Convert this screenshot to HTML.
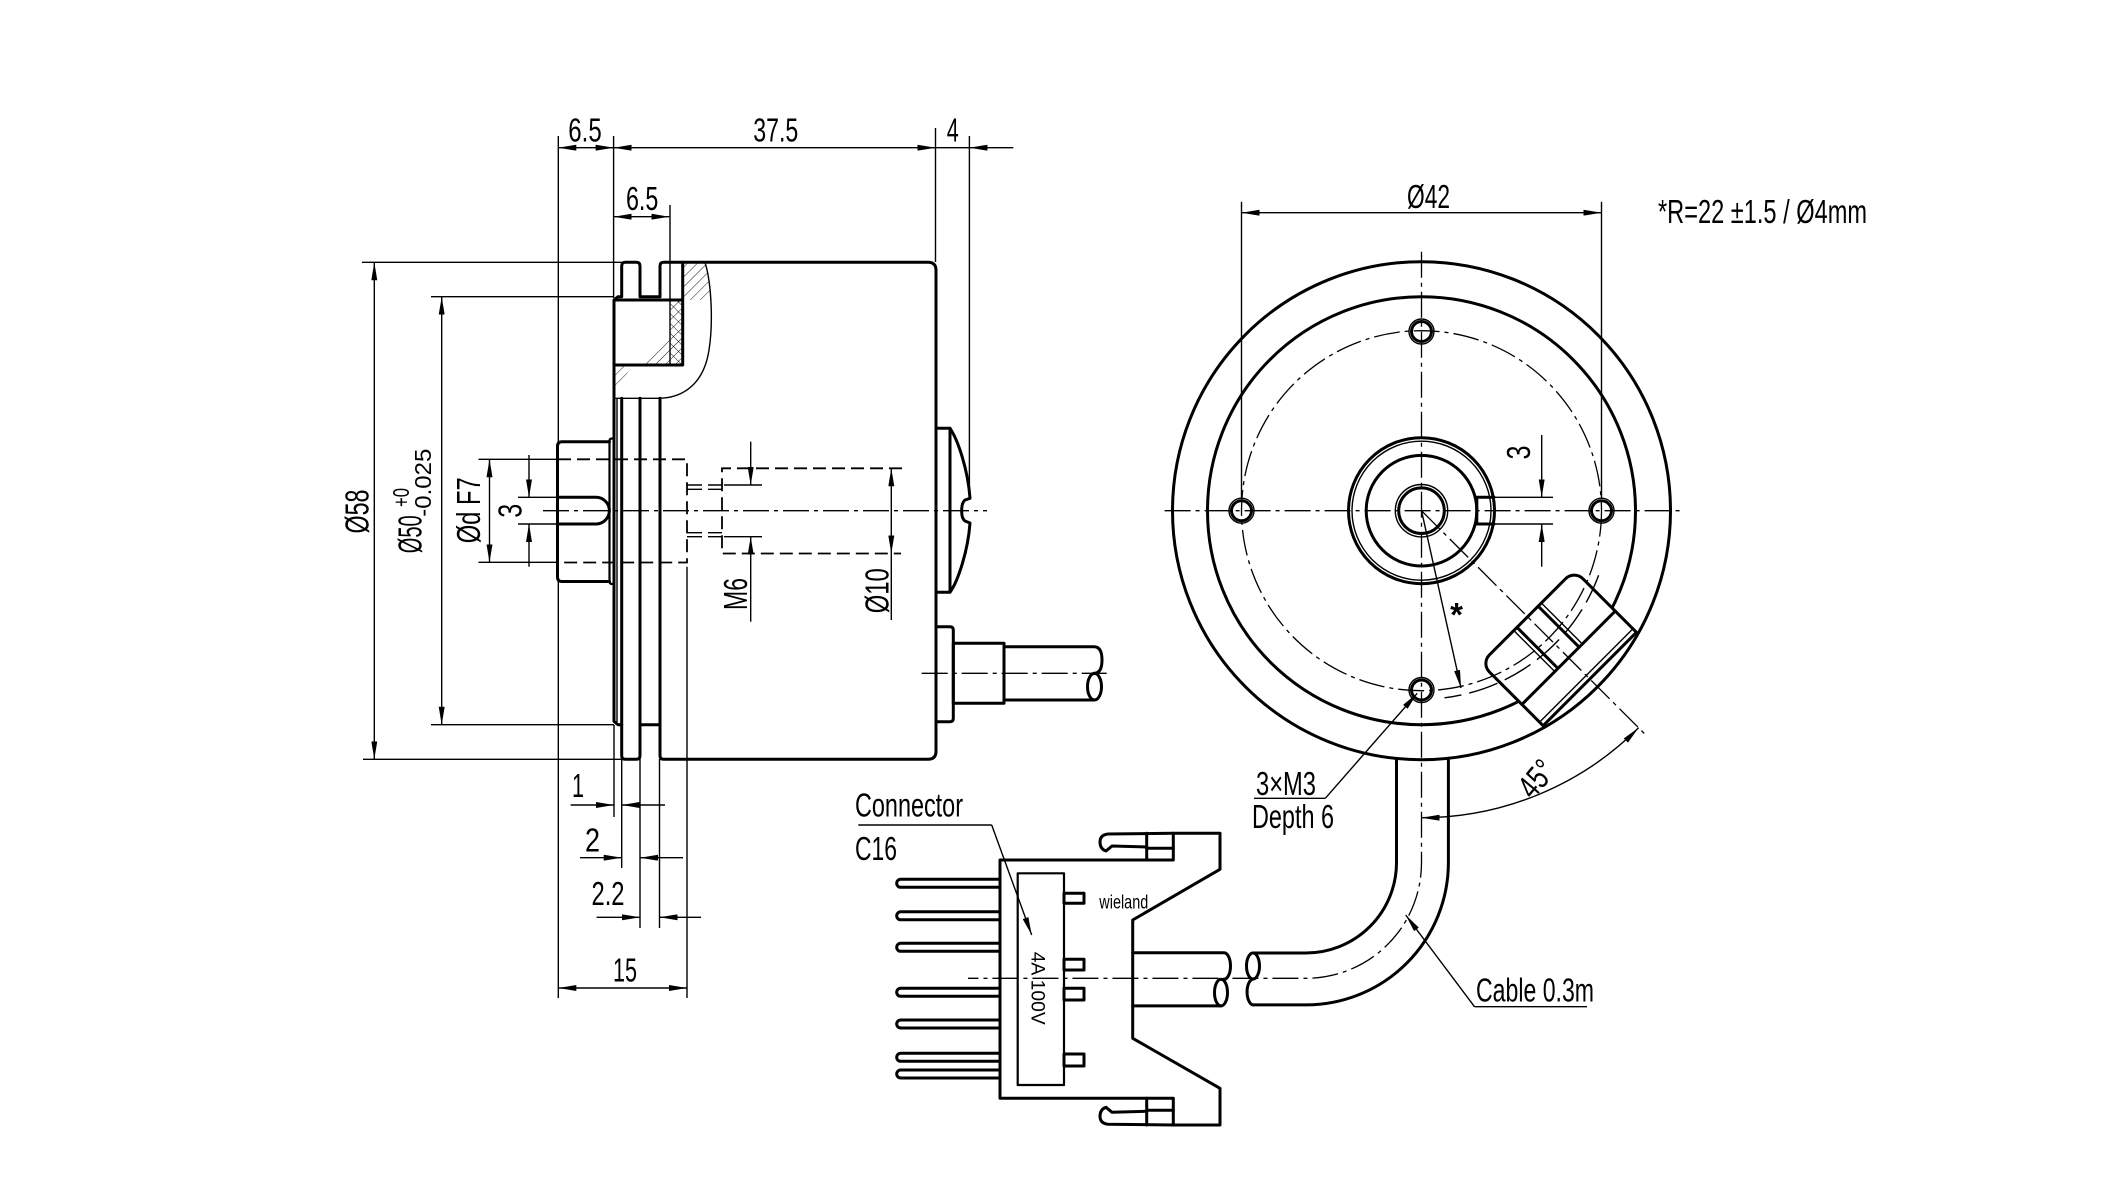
<!DOCTYPE html>
<html><head><meta charset="utf-8"><style>
html,body{margin:0;padding:0;background:#fff;}
svg{display:block;}
.k{stroke:#000;fill:none;stroke-width:3;stroke-linejoin:round;stroke-linecap:round}
.m{stroke:#000;fill:none;stroke-width:2.2;stroke-linejoin:round}
.t{stroke:#000;fill:none;stroke-width:1.4}
.c{stroke:#000;fill:none;stroke-width:1.3;stroke-dasharray:26 5 4 5}
.d{stroke:#000;fill:none;stroke-width:1.8;stroke-dasharray:13 6}
.ar{marker-start:url(#a);marker-end:url(#a)}
.ae{marker-end:url(#a)}
text{font-family:"Liberation Sans",Arial,sans-serif;font-size:33px;fill:#000}
</style></head><body>
<svg xmlns="http://www.w3.org/2000/svg" width="2127" height="1182" viewBox="0 0 2127 1182">
<defs>
<marker id="a" viewBox="0 0 18 6" refX="18" refY="3" markerWidth="18" markerHeight="6" markerUnits="userSpaceOnUse" orient="auto-start-reverse"><path d="M0,0 L18,3 L0,6z" fill="#000"/></marker>
<pattern id="h1" patternUnits="userSpaceOnUse" width="7" height="7" patternTransform="rotate(45)"><line x1="0" y1="0" x2="0" y2="7" stroke="#000" stroke-width="0.9"/></pattern>
<pattern id="h2" patternUnits="userSpaceOnUse" width="7" height="7" patternTransform="rotate(-45)"><line x1="0" y1="0" x2="0" y2="7" stroke="#000" stroke-width="0.9"/></pattern>
</defs>
<rect width="2127" height="1182" fill="#fff"/>

<!-- ================= LEFT (SIDE) VIEW ================= -->
<path d="M682.7,262.3 L705,262.3 L709,285 L710.5,300 L682.7,300 Z" fill="url(#h1)"/>
<rect x="670" y="300" width="12.7" height="65" fill="url(#h1)"/>
<rect x="670" y="300" width="12.7" height="65" fill="url(#h2)"/>
<path d="M614,365 L633,365 L614,392 Z" fill="url(#h1)"/>
<path d="M643,365 L670,365 L670,333 Z" fill="url(#h1)"/>

<path class="k" d="M614,300 L618,296.7 L621.7,296.7 L621.7,266 Q621.7,262.3 625.4,262.3 L636.3,262.3 Q640,262.3 640,266 L640,296.7 L660,296.7 L660,266 Q660,262.3 663.7,262.3 L928,262.3 Q936,262.3 936,270.3 L936,751.3 Q936,759.3 928,759.3 L663.7,759.3 Q660,759.3 660,755.6 L660,724.7 L640,724.7 L640,755.6 Q640,759.3 636.3,759.3 L625.4,759.3 Q621.7,759.3 621.7,755.6 L621.7,724.7 L618,724.7 L614,721.4 Z"/>
<path class="k" d="M621.7,398.3 L621.7,724.7 M640,398.3 L640,724.7 M660,398.3 L660,724.7"/>
<path class="t" d="M617,398.3 L617,722"/>
<path class="t" d="M705,262.3 C712,285 713,325 709,350 C704,383 684,398.3 658,398.3 L614,398.3"/>
<path class="k" d="M614,300 L682.7,300 L682.7,365 L614,365 M682.7,262.3 L682.7,300"/>
<path class="t" d="M670,205 L670,365"/>

<path class="k" d="M609.5,441.7 L562,441.7 Q557.5,441.7 557.5,446.2 L557.5,577 Q557.5,581.5 562,581.5 L609.5,581.5"/>
<path class="m" d="M609.5,581.5 L609.5,441 Q609.5,438.5 612,438.5 L614,438.5 M609.5,581.5 Q609.5,584 612,584 L614,584"/>
<path class="k" d="M557.5,497.3 L596,497.3 A13.35,13.35 0 0 1 596,524 L557.5,524"/>
<path class="d" d="M558,459.3 L687,459.3 L687,562.5 L558,562.5"/>
<path class="t" d="M687,485 L702,485 M708,485 L722,485 M687,489.3 L702,489.3 M708,489.3 L722,489.3 M687,532.7 L702,532.7 M708,532.7 L722,532.7 M687,536.7 L702,536.7 M708,536.7 L722,536.7"/>
<path class="d" d="M902,468.3 L722,468.3 L722,553.5 L901,553.5"/>
<path class="t" d="M724,485 L762,485 M724,536.7 L762,536.7"/>

<path class="k" d="M936,428.3 L950,428.3 C958,440 968,470 970,498.3 L965,500 Q961.5,503 961.7,510.7 Q961.5,518.5 965,521 L970,523 C968,551 958,581 950,592.3 L936,592.3 M950,428.3 L950,592.3"/>
<path class="k" d="M936,626.7 L950,626.7 Q953.3,626.7 953.3,630 L953.3,718.4 Q953.3,721.7 950,721.7 L936,721.7"/>
<rect class="k" x="953.3" y="643.3" width="50.7" height="60"/>
<path class="k" d="M1004,646.7 L1094,646.7 Q1102,646.7 1102,660 Q1102,673.3 1094,673.3 M1004,700 L1094,700"/>
<ellipse class="k" cx="1094.5" cy="686.7" rx="7" ry="13.3"/>
<path class="c" d="M543,510.7 L987,510.7"/>
<path class="c" d="M921.7,673.3 L1106.7,673.3"/>

<path class="t" d="M362,262.3 L621.7,262.3 M363,759.3 L621.7,759.3"/>
<path class="t ar" d="M374.3,262.3 L374.3,759.3"/>
<path class="t" d="M431,296.7 L614,296.7 M431,724.7 L614,724.7"/>
<path class="t ar" d="M441.7,296.7 L441.7,724.7"/>
<path class="t" d="M478.5,459.3 L558,459.3 M478.5,562.3 L558,562.3"/>
<path class="t ar" d="M489.5,459.3 L489.5,562.3"/>
<path class="t" d="M518,497.3 L557.5,497.3 M518,524 L557.5,524"/>
<path class="t ae" d="M529,455 L529,497.3"/>
<path class="t ae" d="M529,566.7 L529,524"/>

<text transform="translate(368.3,511.5) rotate(-90)" text-anchor="middle" textLength="44" lengthAdjust="spacingAndGlyphs">Ø58</text>
<text transform="translate(421.7,553.3) rotate(-90)" textLength="38" lengthAdjust="spacingAndGlyphs">Ø50</text>
<text transform="translate(409,507) rotate(-90)" style="font-size:23px" textLength="19" lengthAdjust="spacingAndGlyphs">+0</text>
<text transform="translate(431,516.7) rotate(-90)" style="font-size:23px" textLength="68" lengthAdjust="spacingAndGlyphs">-0.025</text>
<text transform="translate(480,543.3) rotate(-90)" textLength="66" lengthAdjust="spacingAndGlyphs">Ød F7</text>
<text transform="translate(521.7,510.7) rotate(-90)" text-anchor="middle" textLength="14" lengthAdjust="spacingAndGlyphs">3</text>

<path class="t ae" d="M750.7,441.7 L750.7,485"/>
<path class="t ae" d="M750.7,621.7 L750.7,536.7"/>
<text transform="translate(747,610) rotate(-90)" textLength="32" lengthAdjust="spacingAndGlyphs">M6</text>
<path class="t ar" d="M891.3,468.3 L891.3,553.5"/>
<path class="t" d="M891.3,553.5 L891.3,620"/>
<text transform="translate(888.5,613.3) rotate(-90)" textLength="45" lengthAdjust="spacingAndGlyphs">Ø10</text>

<path class="t" d="M558.3,136 L558.3,441.7 M558.3,581.5 L558.3,998 M613.6,136 L613.6,298 M935.5,128 L935.5,262 M969.4,136 L969.4,498"/>
<path class="t ar" d="M558.3,147.7 L613.6,147.7"/>
<path class="t ar" d="M613.6,147.7 L935.5,147.7"/>
<path class="t" d="M935.5,147.7 L969.4,147.7"/>
<path class="t ae" d="M1013.3,147.7 L969.4,147.7"/>
<text x="568.3" y="141.7" textLength="33.4" lengthAdjust="spacingAndGlyphs">6.5</text>
<text x="753.3" y="141.7" textLength="45" lengthAdjust="spacingAndGlyphs">37.5</text>
<text x="946.7" y="141.7" textLength="12" lengthAdjust="spacingAndGlyphs">4</text>
<path class="t ar" d="M613.6,216.7 L669.3,216.7"/>
<text x="626" y="210" textLength="32.3" lengthAdjust="spacingAndGlyphs">6.5</text>

<path class="t" d="M614,725 L614,817 M621.7,759 L621.7,868 M640,759 L640,928 M659.5,759 L659.5,928 M687,566.7 L687,998"/>
<path class="t ae" d="M570.6,805 L614,805"/>
<path class="t ae" d="M665,805 L621.7,805"/>
<text x="572" y="797" textLength="12" lengthAdjust="spacingAndGlyphs">1</text>
<path class="t ae" d="M580,857.7 L621.7,857.7"/>
<path class="t ae" d="M683,857.7 L640,857.7"/>
<text x="585" y="851.7" textLength="15" lengthAdjust="spacingAndGlyphs">2</text>
<path class="t ae" d="M596.6,917.3 L640,917.3"/>
<path class="t ae" d="M701,917.3 L659.5,917.3"/>
<text x="591.5" y="905" textLength="33" lengthAdjust="spacingAndGlyphs">2.2</text>
<path class="t ar" d="M558.3,988 L687,988"/>
<text x="613" y="981.7" textLength="24" lengthAdjust="spacingAndGlyphs">15</text>

<!-- ================= RIGHT (REAR) VIEW ================= -->
<circle class="k" cx="1421.5" cy="510.7" r="249"/>
<circle class="k" cx="1421.5" cy="510.7" r="214"/>
<g transform="translate(1421.5,510.7) rotate(45)">
<path class="k" style="fill:#fff" d="M238,-66 L162,-66 A12,12 0 0 0 150,-54 L150,54 A12,12 0 0 0 162,66 L238,66 Z"/>
<path class="k" d="M208,-66 L208,66 M150,-15 L208,-15 M150,15 L208,15"/>
<path class="t" d="M233,-66 L233,66 M150,-19.5 L208,-19.5 M150,19.5 L208,19.5"/>
</g>
<circle class="c" cx="1421.5" cy="510.7" r="180"/>
<path class="t" style="stroke-dasharray:30 8" d="M1598.6,575.2 A188.5,188.5 0 0 1 1444.5,697.8"/>

<g>
<circle class="k" cx="1421.5" cy="331.5" r="10"/><circle class="t" cx="1421.5" cy="331.5" r="12.5"/>
<circle class="k" cx="1241.5" cy="510.7" r="10"/><circle class="t" cx="1241.5" cy="510.7" r="12.5"/>
<circle class="k" cx="1601.5" cy="510.7" r="10"/><circle class="t" cx="1601.5" cy="510.7" r="12.5"/>
<circle class="k" cx="1421.5" cy="690" r="10"/><circle class="t" cx="1421.5" cy="690" r="12.5"/>
</g>
<circle class="k" cx="1421.5" cy="510.7" r="73"/>
<circle class="t" cx="1421.5" cy="510.7" r="69.5"/>
<circle class="k" cx="1421.5" cy="510.7" r="55.3"/>
<circle class="k" cx="1421.5" cy="510.7" r="22.8"/>
<circle class="t" cx="1421.5" cy="510.7" r="26.2"/>
<path class="k" d="M1476.8,497.3 L1494,497.3 M1476.8,524 L1494,524 M1476.8,497.3 L1476.8,524"/>
<path class="t" d="M1494,497.3 L1553,497.3 M1494,524 L1553,524"/>
<path class="t ae" d="M1541.7,435 L1541.7,497.3"/>
<path class="t ae" d="M1541.7,566.7 L1541.7,524"/>
<text transform="translate(1530,452.5) rotate(-90)" text-anchor="middle" textLength="14" lengthAdjust="spacingAndGlyphs">3</text>

<path class="c" d="M1164.6,510.7 L1681,510.7"/>
<path class="c" d="M1421.5,251.7 L1421.5,862.5 A115.5,115.5 0 0 1 1306,978.3 L968,978.3"/>
<path class="c" d="M1421.5,510.7 L1646.4,735.6"/>
<path class="t ae" d="M1421.5,510.7 L1461,688"/>
<text x="1456.5" y="626" text-anchor="middle" style="font-size:33px;font-weight:bold">*</text>

<path class="t" d="M1241.5,201.7 L1241.5,498 M1601.5,201.7 L1601.5,498"/>
<path class="t ar" d="M1241.5,212.7 L1601.5,212.7"/>
<text x="1407" y="208" textLength="43" lengthAdjust="spacingAndGlyphs">Ø42</text>
<text x="1658" y="223" textLength="209" lengthAdjust="spacingAndGlyphs">*R=22 ±1.5 / Ø4mm</text>

<path class="k" d="M1396.5,758.4 L1396.5,862.5 A90.5,90.5 0 0 1 1306,953 L1253,953"/>
<path class="k" d="M1448.4,758.2 L1448.4,862.5 A142.4,142.4 0 0 1 1306,1004.9 L1253,1004.9"/>
<ellipse class="k" cx="1253" cy="966" rx="6.5" ry="13"/>
<path class="k" d="M1253,979 A6.5,13 0 0 0 1253,1004.9"/>
<path class="k" d="M1132.7,952.7 L1224,952.7 A6.5,13.3 0 0 1 1224,979.3 M1132.7,1005.9 L1221,1005.9"/>
<ellipse class="k" cx="1221" cy="992.6" rx="6.5" ry="13.3"/>

<path class="t ar" d="M1421.5,817.7 A307,307 0 0 0 1638.6,727.8"/>
<text transform="translate(1545,786) rotate(-50)" text-anchor="middle" textLength="38" lengthAdjust="spacingAndGlyphs">45°</text>

<path class="t ae" d="M1325.3,798.3 L1417.2,693.3"/>
<path class="t" d="M1254,798.3 L1325.3,798.3"/>
<text x="1256" y="795" textLength="60" lengthAdjust="spacingAndGlyphs">3×M3</text>
<text x="1252" y="828" textLength="82" lengthAdjust="spacingAndGlyphs">Depth 6</text>

<path class="t ae" d="M1474.5,1006.7 L1405.7,915"/>
<path class="t" d="M1474.5,1006.7 L1587,1006.7"/>
<text x="1476" y="1001.7" textLength="118" lengthAdjust="spacingAndGlyphs">Cable 0.3m</text>

<!-- ================= CONNECTOR ================= -->
<path class="k" d="M1000,860 L1173.3,860 L1173.3,833.3 L1220,833.3 L1220,869.3 L1132.7,920 L1132.7,1038.3 L1220,1088.3 L1220,1125 L1173.3,1125 L1173.3,1098.3 L1000,1098.3 Z"/>
<path class="k" d="M1146.7,833.3 L1146.7,860 M1146.7,848.3 L1173.3,848.3 M1146.7,1098.3 L1146.7,1125 M1146.7,1110.3 L1173.3,1110.3"/>
<path class="k" d="M1173.3,833.3 L1108,834 Q1100,835 1100,842 Q1100,849 1106,851 L1112,846 L1146.7,847"/>
<path class="k" d="M1173.3,1125 L1108,1124.3 Q1100,1123.3 1100,1116.3 Q1100,1109.3 1106,1107.3 L1112,1112.3 L1146.7,1111.3"/>
<rect class="m" x="1017.7" y="873.3" width="46.3" height="211.7"/>
<g class="k">
<rect x="1064" y="893.3" width="20" height="10"/>
<rect x="1064" y="959.3" width="20" height="10.7"/>
<rect x="1064" y="988.3" width="20" height="11.7"/>
<rect x="1064" y="1054" width="20" height="12"/>
</g>
<g class="k">
<path d="M1000,879.3 L900.7,879.3 A4,4 0 0 0 900.7,887.3 L1000,887.3"/>
<path d="M1000,911.8 L900.7,911.8 A4,4 0 0 0 900.7,919.8 L1000,919.8"/>
<path d="M1000,943.3 L900.7,943.3 A4,4 0 0 0 900.7,951.3 L1000,951.3"/>
<path d="M1000,988.3 L900.7,988.3 A4,4 0 0 0 900.7,996.3 L1000,996.3"/>
<path d="M1000,1020 L900.7,1020 A4,4 0 0 0 900.7,1028 L1000,1028"/>
<path d="M1000,1053.3 L900.7,1053.3 A4,4 0 0 0 900.7,1061.3 L1000,1061.3"/>
<path d="M1000,1070 L900.7,1070 A4,4 0 0 0 900.7,1078 L1000,1078"/>
</g>
<text x="1099.3" y="908.3" style="font-size:19px" textLength="49" lengthAdjust="spacingAndGlyphs">wieland</text>
<text transform="translate(1031.7,951.7) rotate(90)" style="font-size:19px" textLength="73" lengthAdjust="spacingAndGlyphs">4A 100V</text>
<text x="855" y="816.7" textLength="108" lengthAdjust="spacingAndGlyphs">Connector</text>
<text x="855" y="860" textLength="42" lengthAdjust="spacingAndGlyphs">C16</text>
<path class="t" d="M858.3,825 L991.7,825"/>
<path class="t ae" d="M991.7,825 L1031.7,935"/>
</svg>
</body></html>
